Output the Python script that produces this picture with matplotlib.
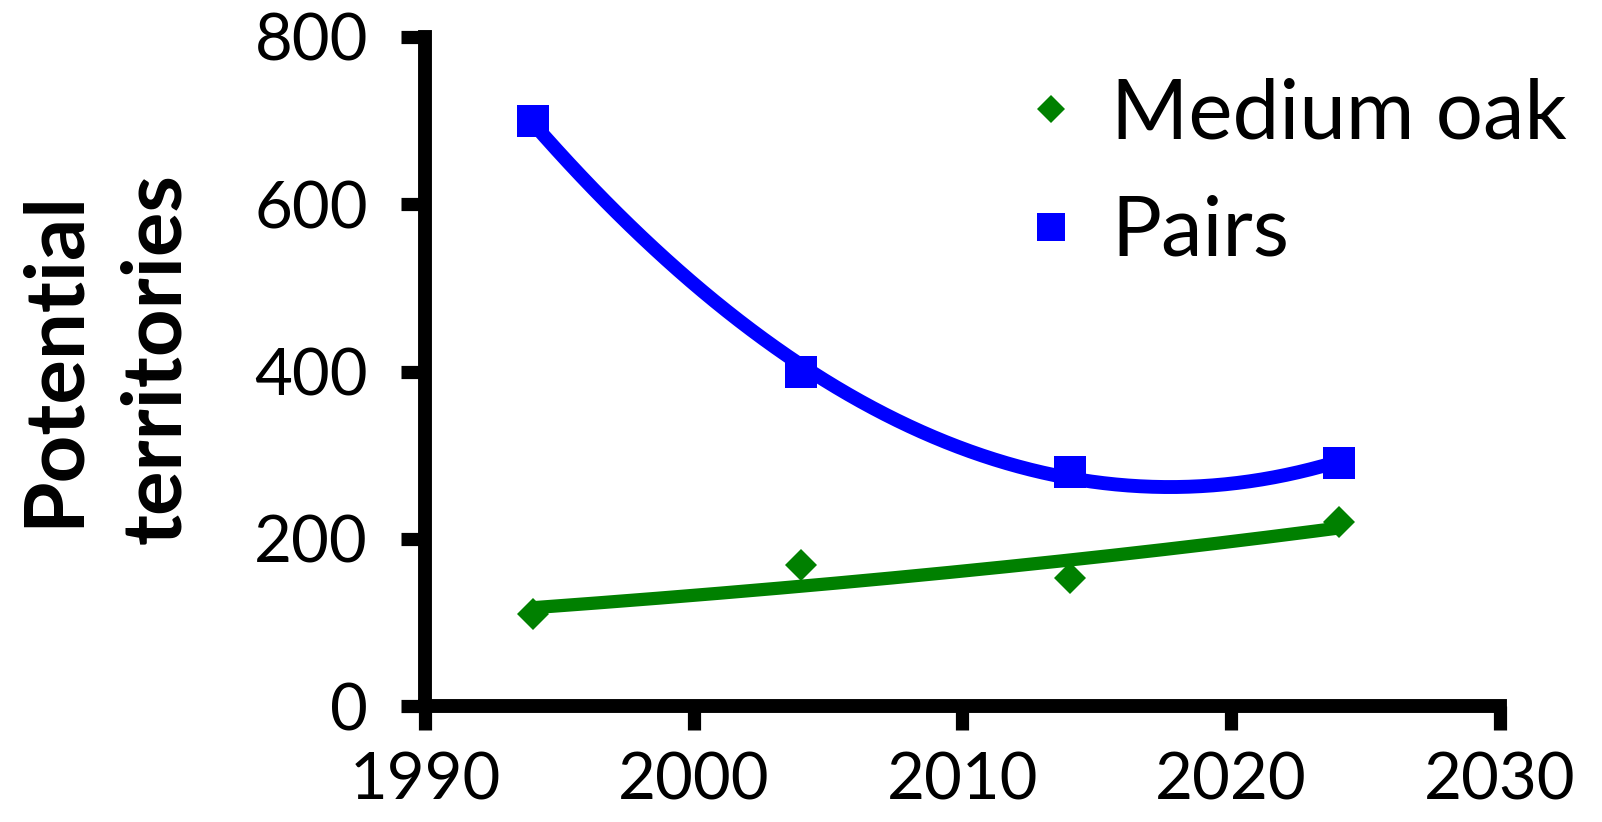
import numpy as np
import matplotlib.pyplot as plt

plt.rcParams['font.family'] = ['Lato', 'DejaVu Sans']

years = [1994, 2004, 2014, 2024]
medium_oak = [110, 169, 153, 220]
pairs = [700, 400, 280, 290]

green = '#008000'
blue = '#0000ff'

fig = plt.figure(figsize=(16.02, 8.22), dpi=100)
ax = fig.add_axes([0.2653, 0.1411, 0.671, 0.8139])

xs = np.linspace(years[0], years[-1], 200)

# exponential trend for medium oak, quadratic for pairs (Excel style)
k, b = np.polyfit(years, np.log(medium_oak), 1)
ax.plot(xs, np.exp(k * xs + b), color=green, lw=9.5, solid_capstyle='butt', zorder=2)
pq = np.polyfit(years, pairs, 2)
ax.plot(xs, np.polyval(pq, xs), color=blue, lw=10, solid_capstyle='butt', zorder=2)

ax.plot(years, medium_oak, 'D', color=green, ms=16, mew=0, label='Medium oak', zorder=3)
ax.plot(years, pairs, 's', color=blue, ms=23, mew=0, label='Pairs', zorder=3)

ax.set_xlim(1990, 2030)
ax.set_ylim(0, 800)
ax.set_xticks([1990, 2000, 2010, 2020, 2030])
ax.set_yticks([0, 200, 400, 600, 800])
for s in ['top', 'right']:
    ax.spines[s].set_visible(False)
for s in ['left', 'bottom']:
    ax.spines[s].set_linewidth(10)
ax.tick_params(axis='both', direction='out', length=17, width=9.5, labelsize=47)
ax.tick_params(axis='y', pad=24)
ax.tick_params(axis='x', pad=16)

ax.set_ylabel('Potential\nterritories', fontsize=60, fontweight='bold',
              linespacing=1.45)
ax.yaxis.set_label_coords(-0.215, 0.52)

ax.legend(loc='upper left', bbox_to_anchor=(0.513, 0.99), frameon=False,
          fontsize=60, handletextpad=0.22, labelspacing=0.5, markerscale=0.9,
          handlelength=1.0, borderaxespad=0)

fig.savefig('out.png', dpi=100)
